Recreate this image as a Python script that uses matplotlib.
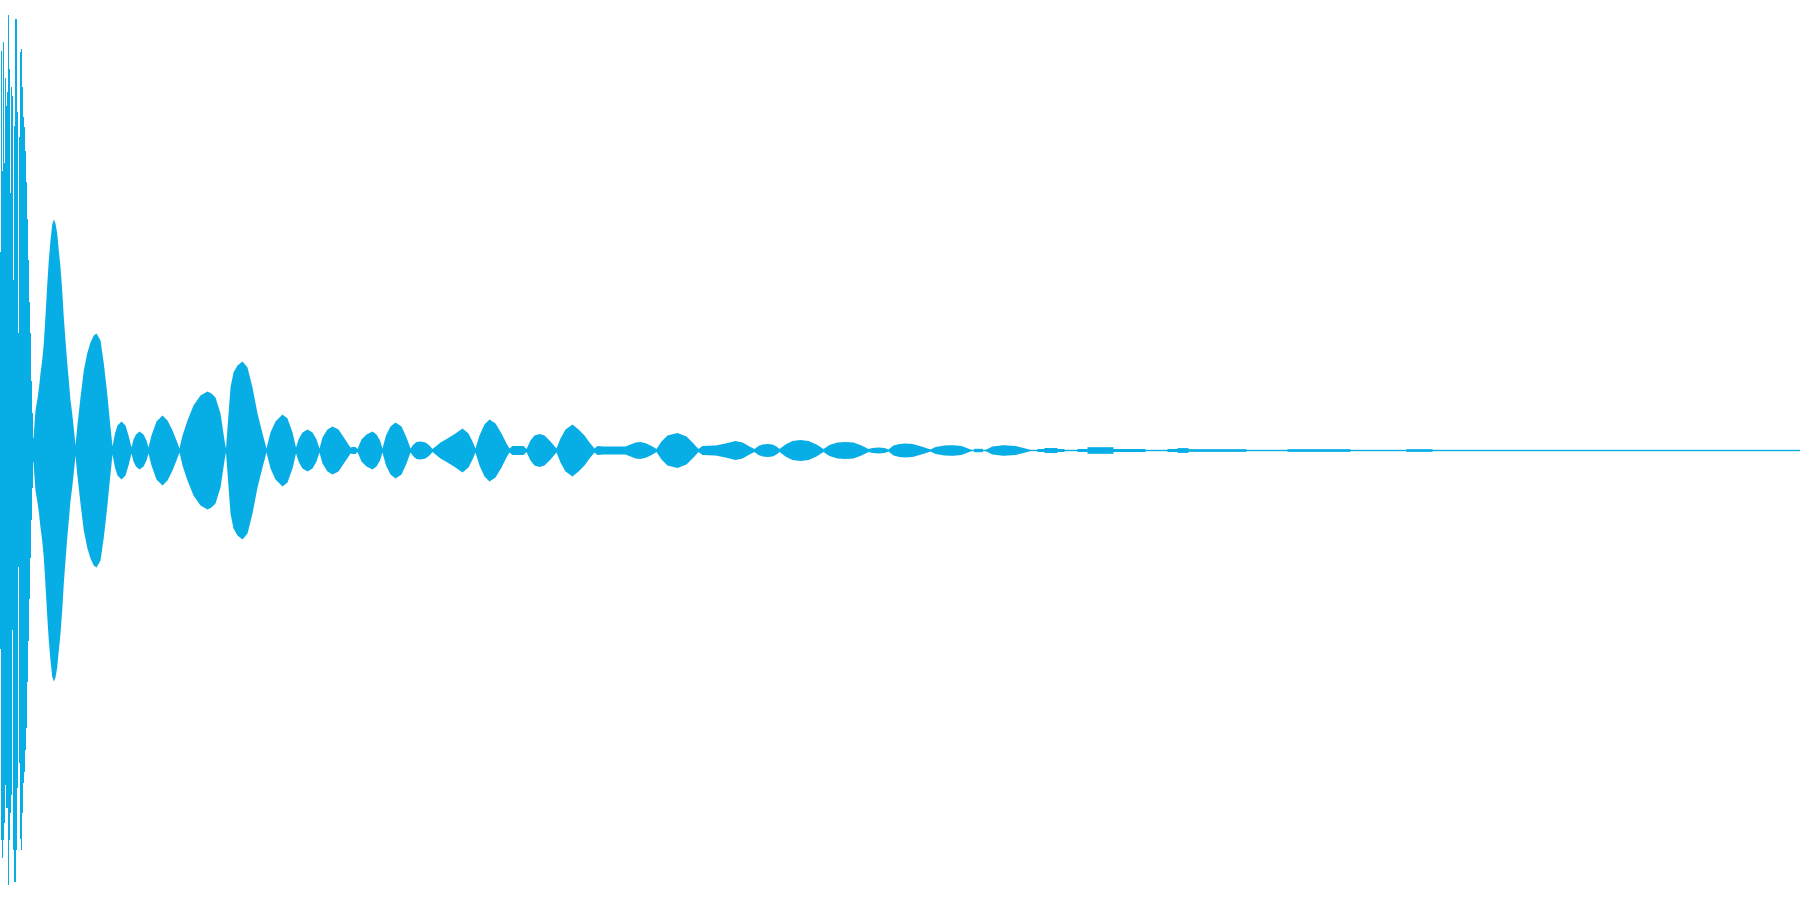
import numpy as np
import matplotlib
matplotlib.use("Agg")
import matplotlib.pyplot as plt

# opening burst, one value per sample column (upper / lower half-amplitude)
burst_t = list(range(0, 34))
burst_up = [198, 399, 279, 408, 287, 372, 344, 358, 435, 381, 257, 363, 354, 170, 324, 431, 431,
            338, 117, 313, 398, 401, 363, 333, 323, 299, 268, 231, 190, 148, 117, 69, 37, 12]
burst_dn = [199, 390, 408, 390, 373, 335, 358, 358, 435, 390, 363, 345, 180, 400, 432, 432, 400,
            338, 117, 313, 389, 400, 363, 333, 322, 300, 278, 232, 191, 149, 108, 70, 38, 12]

# decaying tail envelope (sample position, half-amplitude)
env_t = [33, 35, 37, 38.5, 40, 41.7, 43.3, 45, 46.7, 48.3, 50, 51.7, 53.3, 55, 56.7, 58.3, 60, 61.7,
         63.3, 65, 66.7, 68.3, 70, 71.7, 73.3, 75,
         76.7, 80, 83.3, 86.7, 90, 93.3, 96, 100, 103.3, 106.7, 110, 112,
         114.5, 117, 121, 125, 128, 131,
         133, 135.5, 139, 143, 146, 148,
         151, 156, 162, 167, 172, 176, 179,
         182, 187, 193, 200, 207, 211, 215, 220, 224, 225.5,
         230, 233, 237, 242, 247, 252, 257, 262, 266,
         270, 275, 282, 287, 292, 295.5,
         298.5, 302, 307, 312, 316, 319,
         322, 327, 332, 338, 344, 350,
         352, 355, 357,
         361, 366, 372, 376, 379.5, 382,
         385.5, 390, 395, 401, 406, 410,
         413, 416, 420, 425, 429, 432,
         440, 447, 455, 462, 468, 472, 475,
         479, 484, 489, 495, 501, 506, 509,
         512, 523, 526,
         530, 534, 539, 544, 550, 556,
         560, 565, 572, 578, 584, 589, 594,
         597, 603, 625,
         630, 635, 640, 646, 652, 656,
         661, 667, 677, 686, 693, 698,
         702, 715, 725, 735, 742, 749, 754,
         758, 762, 767, 772, 776, 779,
         785, 792, 800, 808, 816, 823,
         829, 837, 845, 853, 861, 868,
         872, 878, 884, 888,
         893, 899, 905, 912, 921, 930,
         935, 944, 952, 961, 970,
         973, 974, 982, 983,
         986, 992, 1003, 1015, 1025, 1030,
         1037, 1037, 1044, 1044, 1057, 1057, 1064, 1064,
         1077, 1077, 1087, 1087, 1113, 1113, 1145, 1145,
         1167, 1167, 1177, 1177, 1188, 1188, 1246, 1246,
         1287, 1287, 1350, 1350,
         1406, 1406, 1432, 1432,
         1800]
env_amp = [12, 40, 52, 63, 77, 90, 107, 135, 165, 190, 210, 226, 231, 227, 217, 200, 183, 160,
           133, 110, 88, 70, 50, 37, 22, 5,
           23, 53, 80, 97, 108, 115, 117, 110, 87, 57, 23, 4,
           17, 25, 29, 25, 15, 3,
           11, 16, 19, 16, 10, 3,
           15, 29, 35, 30, 20, 10, 2,
           15, 30, 45, 55, 59, 57, 53, 37, 10, 2,
           63, 78, 85, 89, 83, 63, 37, 17, 2,
           18, 29, 36, 32, 18, 3,
           12, 18, 21, 18, 11, 2,
           13, 21, 24, 21, 12, 3,
           3.5, 3.5, 1.5,
           11, 16, 19, 16, 10, 2,
           15, 24, 28, 24, 13, 2,
           6, 8.5, 9, 8, 5, 1.5,
           8, 12, 17, 22, 17, 9, 2,
           15, 26, 31, 27, 17, 7, 2,
           4.5, 4.5, 1.5,
           10, 15, 16.5, 15, 9, 2,
           12, 21, 26, 21, 15, 8, 2,
           4.5, 4, 4,
           6, 8, 8.5, 7, 4, 1.5,
           9, 15, 17.5, 14, 7, 1.5,
           4.5, 5, 7, 9.5, 8, 4, 1.5,
           4.5, 6, 6.5, 6, 4, 1.5,
           6, 9.5, 10.5, 9.5, 6, 1.5,
           5.5, 8, 8.5, 8, 5, 1.5,
           2.5, 3, 2.5, 1,
           5, 6.5, 7, 6.5, 4, 1,
           3.5, 5, 5.3, 4.5, 1,
           0, 1.7, 1.7, 0,
           1, 4, 5.3, 4.5, 2, 0.5,
           0, 1.5, 1.5, 2.5, 2.5, 1.5, 1.5, 0,
           0, 1.5, 1.5, 3.3, 3.3, 1.5, 1.5, 0,
           0, 1.5, 1.5, 2.4, 2.4, 1.3, 1.3, 0,
           0, 1.3, 1.3, 0,
           0, 1.3, 1.3, 0,
           0]

color = "#06aee5"

fig = plt.figure(figsize=(18, 9), dpi=100)
ax = fig.add_axes([0, 0, 1, 1])

bt = np.array(burst_t + [34])
bu = np.array(burst_up + [burst_up[-1]])
bd = np.array(burst_dn + [burst_dn[-1]])
ax.fill_between(bt, -bd, bu, step="post", color=color, linewidth=0)

et = np.array(env_t)
ea = np.array(env_amp)
ax.fill_between(et, -ea, ea, color=color, linewidth=0)

# the zero line that stays visible where the signal is silent
ax.plot([0, 1800], [0, 0], color=color, linewidth=1.0)

ax.set_xlim(0, 1800)
ax.set_ylim(-450, 450)
ax.axis("off")

fig.savefig("out.png", dpi=100, facecolor="white")
